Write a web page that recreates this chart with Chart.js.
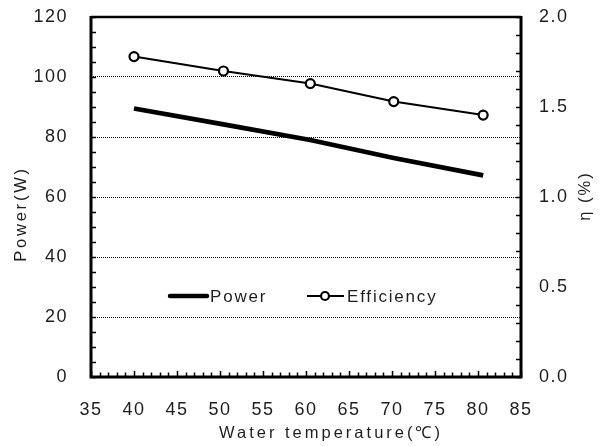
<!DOCTYPE html>
<html>
<head>
<meta charset="utf-8">
<script src="https://cdn.jsdelivr.net/npm/chart.js@4.4.1/dist/chart.umd.min.js"></script>
<style>
  html, body { margin: 0; padding: 0; background: #fff; }
  canvas { display: block; }
</style>
</head>
<body>
<canvas id="tempChart" width="602" height="446"></canvas>
<script>
// ---- data ----
const temps = [40, 50.4, 60.5, 70.2, 80.6];
const powerW = [89.5, 84.2, 79.0, 73.0, 67.2];
const efficiency = [1.78, 1.70, 1.63, 1.53, 1.455];
const seriesNames = ['Power', 'Efficiency'];
const xRange = [35, 85];
const powerRange = [0, 120];
const etaRange = [0, 2.0];
const xTitle = 'Water temperature(℃)';
const yTitle = 'Power(W)';
const y1Title = 'η (%)';

const FONT = "'Liberation Sans', Arial, sans-serif";
const INK = '#1e1e1e';

function pts(xs, ys) {
    return xs.map((x, i) => ({ x: x, y: ys[i] }));
}

// wider letter spacing, like the original Gulim-ish text
const spacing = {
    id: 'spacing',
    beforeUpdate(chart) { chart.ctx.letterSpacing = '1.5px'; },
    beforeDraw(chart) { chart.ctx.letterSpacing = '1.5px'; }
};

// box round the plot and the small inner ticks
const frame = {
    id: 'frame',
    afterDraw(chart) {
        const { ctx, chartArea: a, scales } = chart;
        ctx.save();
        ctx.strokeStyle = '#000';
        ctx.lineWidth = 1.5;
        for (let v = powerRange[0]; v <= powerRange[1]; v += 5) {
            const y = Math.round(scales.y.getPixelForValue(v)) + 0.5;
            ctx.beginPath(); ctx.moveTo(a.left, y); ctx.lineTo(a.left + 5, y); ctx.stroke();
        }
        for (let i = 0; i <= 20; i++) {
            const y = Math.round(scales.y1.getPixelForValue(i / 10)) + 0.5;
            ctx.beginPath(); ctx.moveTo(a.right - 5, y); ctx.lineTo(a.right, y); ctx.stroke();
        }
        for (let v = xRange[0]; v <= xRange[1]; v++) {
            const x = Math.round(scales.x.getPixelForValue(v)) + 0.5;
            const len = v % 5 === 0 ? 6 : 4.5;
            ctx.beginPath(); ctx.moveTo(x, a.bottom); ctx.lineTo(x, a.bottom - len); ctx.stroke();
        }
        ctx.lineWidth = 2.5;
        ctx.beginPath(); ctx.moveTo(a.left, a.top); ctx.lineTo(a.right, a.top); ctx.stroke();
        ctx.lineWidth = 3;
        ctx.beginPath();
        ctx.moveTo(a.left, a.top - 1); ctx.lineTo(a.left, a.bottom);
        ctx.lineTo(a.right, a.bottom); ctx.lineTo(a.right, a.top - 1);
        ctx.stroke();
        ctx.restore();
    }
};

// legend sits inside the plot in the original
const innerLegend = {
    id: 'innerLegend',
    afterDatasetsDraw(chart) {
        const { ctx } = chart;
        const y = 296;
        const spots = [170, 307];
        ctx.save();
        ctx.font = '17px ' + FONT;
        ctx.letterSpacing = '1.8px';
        ctx.textBaseline = 'middle';
        ctx.fillStyle = INK;
        chart.data.datasets.forEach((ds, i) => {
            const x0 = spots[i];
            ctx.strokeStyle = ds.borderColor;
            ctx.lineWidth = i === 0 ? 4.5 : 2;
            ctx.lineCap = i === 0 ? 'round' : 'butt';
            ctx.beginPath(); ctx.moveTo(x0, y); ctx.lineTo(x0 + 37, y); ctx.stroke();
            if (ds.pointRadius > 0) {
                ctx.fillStyle = ds.pointBackgroundColor;
                ctx.lineWidth = ds.pointBorderWidth;
                ctx.beginPath(); ctx.arc(x0 + 18, y, ds.pointRadius - 0.5, 0, Math.PI * 2);
                ctx.fill(); ctx.stroke();
                ctx.fillStyle = INK;
            }
            ctx.fillText(ds.label, x0 + 40, y + 1);
        });
        ctx.restore();
    }
};

// axis titles placed where the original has them
const axisTitles = {
    id: 'axisTitles',
    afterDraw(chart) {
        const { ctx } = chart;
        ctx.save();
        ctx.font = '16.5px ' + FONT;
        ctx.letterSpacing = '3px';
        ctx.fillStyle = INK;
        ctx.textAlign = 'center';
        ctx.textBaseline = 'middle';
        ctx.fillText(xTitle, 331, 433);
        ctx.letterSpacing = '2.8px';
        ctx.translate(21, 214);
        ctx.rotate(-Math.PI / 2);
        ctx.fillText(yTitle, 0, 0);
        ctx.restore();
        ctx.save();
        ctx.font = '16.5px ' + FONT;
        ctx.letterSpacing = '2px';
        ctx.fillStyle = INK;
        ctx.textAlign = 'center';
        ctx.textBaseline = 'middle';
        ctx.translate(585, 196);
        ctx.rotate(-Math.PI / 2);
        ctx.fillText(y1Title, 0, 0);
        ctx.restore();
    }
};

const tickFont = { family: FONT, size: 18 };

function fixSide(width) {
    return s => { s.width = width; s.paddingTop = 0; s.paddingBottom = 0; };
}

new Chart(document.getElementById('tempChart'), {
    type: 'line',
    data: {
        datasets: [
            {
                label: seriesNames[0],
                data: pts(temps, powerW),
                yAxisID: 'y',
                borderColor: '#000',
                borderWidth: 4.8,
                pointRadius: 0,
                tension: 0,
                fill: false
            },
            {
                label: seriesNames[1],
                data: pts(temps, efficiency),
                yAxisID: 'y1',
                borderColor: '#000',
                borderWidth: 2,
                pointRadius: 4.5,
                pointBorderWidth: 2.2,
                pointBackgroundColor: '#fff',
                pointBorderColor: '#000',
                tension: 0,
                fill: false
            }
        ]
    },
    options: {
        responsive: false,
        animation: false,
        layout: { padding: { top: 17, left: 0, right: 0, bottom: 0 } },
        plugins: {
            legend: { display: false },
            tooltip: { enabled: false }
        },
        scales: {
            x: {
                type: 'linear',
                min: xRange[0], max: xRange[1],
                ticks: { stepSize: 5, color: INK, font: tickFont, padding: 22, maxRotation: 0 },
                grid: { display: false, drawTicks: false },
                border: { display: false },
                afterFit(s) { s.height = 69; s.paddingLeft = 0; s.paddingRight = 0; }
            },
            y: {
                position: 'left',
                min: powerRange[0], max: powerRange[1],
                ticks: { stepSize: 20, color: INK, font: tickFont, padding: 23 },
                grid: {
                    drawTicks: false,
                    lineWidth: 1,
                    color: c => (c.tick && (c.tick.value === powerRange[0] || c.tick.value === powerRange[1])) ? 'rgba(0,0,0,0)' : '#000'
                },
                border: { display: false, dash: [1, 1] },
                afterFit: fixSide(91)
            },
            y1: {
                position: 'right',
                min: etaRange[0], max: etaRange[1],
                ticks: { stepSize: 0.5, color: INK, font: tickFont, padding: 18, callback: v => v.toFixed(1) },
                grid: { drawOnChartArea: false, drawTicks: false },
                border: { display: false },
                afterFit: fixSide(81)
            }
        }
    },
    plugins: [spacing, innerLegend, frame, axisTitles]
});
</script>
</body>
</html>
